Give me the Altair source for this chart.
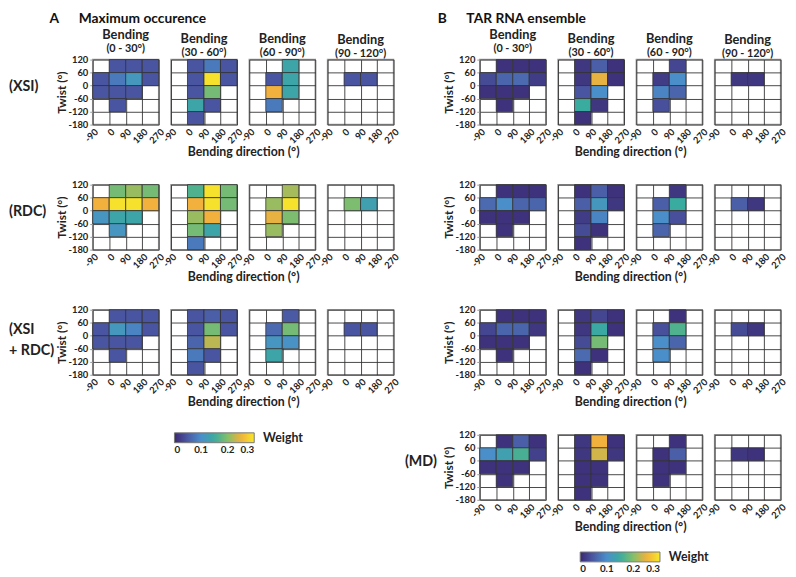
import altair as alt
import pandas as pd

N = None
FONT = "Lato"

# ---------------- data ----------------
x_edges = [-90, 0, 90, 180, 270]            # bending direction bin edges
y_edges = [120, 60, 0, -60, -120, -180]     # twist bin edges (top -> bottom)
bend_titles = ["(0 - 30°)", "(30 - 60°)", "(60 - 90°)", "(90 - 120°)"]

A_labels = ["(XSI)", "(RDC)", "(XSI\n+ RDC)"]
B_labels = [None, None, None, "(MD)"]

# each panel: 5 twist rows (top->bottom) x 4 direction columns, weight or None
A_XSI = [
    [[N, .045, .045, .045], [.045, .08, .115, .045], [.045, .045, .045, N], [N, .045, N, N], [N, N, N, N]],
    [[N, .045, .08, .045], [N, .045, .295, .045], [N, .045, .19, N], [N, .14, .045, N], [N, .045, N, N]],
    [[N, N, .14, N], [N, .045, .14, N], [N, .25, .14, N], [N, .08, N, N], [N, N, N, N]],
    [[N, N, N, N], [N, .045, .045, N], [N, N, N, N], [N, N, N, N], [N, N, N, N]],
]
A_RDC = [
    [[N, .19, .21, .19], [.25, .295, .295, .25], [.11, .14, .14, N], [N, .11, N, N], [N, N, N, N]],
    [[N, .165, .295, .19], [N, .25, .295, .19], [N, .21, .25, N], [N, .19, .14, N], [N, .08, N, N]],
    [[N, N, .215, N], [N, .21, .295, N], [N, .245, .195, N], [N, .21, N, N], [N, N, N, N]],
    [[N, N, N, N], [N, .195, .13, N], [N, N, N, N], [N, N, N, N], [N, N, N, N]],
]
A_BOTH = [
    [[N, .045, .045, .045], [.045, .115, .09, .045], [.045, .045, .045, N], [N, .045, N, N], [N, N, N, N]],
    [[N, .045, .055, .045], [N, .045, .19, .045], [N, .06, .225, N], [N, .08, .045, N], [N, .045, N, N]],
    [[N, N, .05, N], [N, .065, .19, N], [N, .11, .105, N], [N, .14, N, N], [N, N, N, N]],
    [[N, N, N, N], [N, .045, .045, N], [N, N, N, N], [N, N, N, N], [N, N, N, N]],
]
B_XSI = [
    [[N, .01, .01, .01], [.035, .06, .065, .02], [.01, .01, .01, N], [N, .01, N, N], [N, N, N, N]],
    [[N, .015, .055, .01], [N, .015, .245, .01], [N, .045, .1, N], [N, .15, .015, N], [N, .01, N, N]],
    [[N, N, .03, N], [N, .02, .1, N], [N, .09, .06, N], [N, .04, N, N], [N, N, N, N]],
    [[N, N, N, N], [N, .015, .015, N], [N, N, N, N], [N, N, N, N], [N, N, N, N]],
]
B_RDC = [
    [[N, .01, .01, .01], [.065, .1, .06, .06], [.01, .01, .01, N], [N, .01, N, N], [N, N, N, N]],
    [[N, .01, .055, .01], [N, .055, .115, .015], [N, .02, .09, N], [N, .035, .01, N], [N, .01, N, N]],
    [[N, N, .015, N], [N, .055, .15, N], [N, .1, .04, N], [N, .06, N, N], [N, N, N, N]],
    [[N, N, N, N], [N, .055, .015, N], [N, N, N, N], [N, N, N, N], [N, N, N, N]],
]
B_BOTH = [
    [[N, .01, .01, .01], [.03, .06, .06, .015], [.01, .01, .01, N], [N, .01, N, N], [N, N, N, N]],
    [[N, .015, .03, .01], [N, .015, .145, .01], [N, .035, .19, N], [N, .065, .01, N], [N, .01, N, N]],
    [[N, N, .01, N], [N, .04, .165, N], [N, .1, .06, N], [N, .1, N, N], [N, N, N, N]],
    [[N, N, N, N], [N, .035, .015, N], [N, N, N, N], [N, N, N, N], [N, N, N, N]],
]
B_MD = [
    [[N, .01, .055, .01], [.1, .13, .16, .025], [.01, .01, .01, N], [N, .01, N, N], [N, N, N, N]],
    [[N, .015, .25, .01], [N, .015, .235, .015], [N, .01, .01, N], [N, .01, .01, N], [N, .01, N, N]],
    [[N, N, .01, N], [N, .01, .055, N], [N, .01, .01, N], [N, .01, N, N], [N, N, N, N]],
    [[N, N, N, N], [N, .015, .01, N], [N, N, N, N], [N, N, N, N], [N, N, N, N]],
]

weight_stops = [0, .05, .1, .15, .2, .25, .3]
weight_colors = ["#3b2872", "#4b5aa5", "#4a8fca", "#3aab9f", "#84bf6a", "#f2b03c", "#f6e82a"]
legend_values = [0, 0.1, 0.2, 0.3]

# ---------------- layout ----------------
W, H = 67, 66
GAP = 12.5
cscale = alt.Scale(domain=weight_stops, range=weight_colors, interpolate="rgb")
LABEL_EXPR = "datum.value + ''"


def cells(grid):
    rows = []
    for r, line in enumerate(grid):
        for c, v in enumerate(line):
            if v is not None:
                rows.append(dict(x0=x_edges[c], x1=x_edges[c + 1],
                                 y0=y_edges[r + 1], y1=y_edges[r], w=v))
    return pd.DataFrame(rows)


def make_legend(lx, ly):
    return alt.Legend(title="Weight", orient="none", legendX=lx, legendY=ly,
                      direction="horizontal", gradientLength=81, gradientThickness=10,
                      titleOrient="right", values=legend_values, format="~g",
                      labelFont=FONT, labelFontSize=10, labelFontWeight="bold",
                      labelColor="#222", titleFont=FONT, titleFontSize=12.5,
                      titleFontWeight="bold", titleColor="#222",
                      gradientStrokeColor="#777", gradientStrokeWidth=1,
                      titlePadding=8, labelOffset=2)


def make_panel(grid, j, first_row, label, label_off, legend):
    df = cells(grid)
    xaxis_kw = dict(values=x_edges, labelAngle=-45, grid=True, domain=False, ticks=False,
                    labelPadding=2, labelFontSize=9.5, labelBound=False, labelOverlap=False,
                    labelExpr=LABEL_EXPR)
    if j == 1:
        xaxis = alt.Axis(title="Bending direction (°)", titleX=W + GAP / 2, titleY=27,
                         titleBaseline="middle", titleFontSize=12.5, **xaxis_kw)
    else:
        xaxis = alt.Axis(title=None, **xaxis_kw)
    if j == 0:
        yaxis = alt.Axis(values=y_edges, title="Twist (°)", grid=True, domain=False,
                         ticks=True, tickSize=3, tickColor="#999", labelPadding=2,
                         labelFontSize=9.5, titleFontSize=12, titlePadding=0,
                         labelExpr=LABEL_EXPR)
    else:
        yaxis = alt.Axis(values=y_edges, title=None, grid=True, domain=False,
                         ticks=False, labels=False)
    base = alt.Chart(df).mark_rect(stroke="#333", strokeWidth=0.8).encode(
        x=alt.X("x0:Q", scale=alt.Scale(domain=[-90, 270], nice=False, zero=False), axis=xaxis),
        x2="x1",
        y=alt.Y("y0:Q", scale=alt.Scale(domain=[-180, 120], nice=False, zero=False), axis=yaxis),
        y2="y1",
        color=alt.Color("w:Q", scale=cscale, legend=legend),
    )
    layers = [base]
    if j == 0:
        anchor = alt.Chart(pd.DataFrame({"a": [0]})).mark_rule(opacity=0).encode(
            x=alt.value(label_off), y=alt.value(30), y2=alt.value(31))
        layers.append(anchor)
        if label:
            ly = 21 if "\n" in label else H / 2 - 5
            txt = alt.Chart(pd.DataFrame({"t": [label]})).mark_text(
                align="left", baseline="middle", font=FONT, fontSize=14.5,
                fontWeight="bold", color="#222", lineBreak="\n", lineHeight=21).encode(
                text="t:N", x=alt.value(label_off), y=alt.value(ly))
            layers.append(txt)
    props = dict(width=W, height=H)
    if first_row:
        props["title"] = alt.TitleParams(
            text="Bending", subtitle=bend_titles[j], font=FONT, fontSize=13,
            fontWeight="bold", color="#222", subtitleFont=FONT, subtitleFontSize=11,
            subtitleFontWeight="bold", subtitleColor="#222", subtitlePadding=1,
            anchor="middle", offset=1)
    return alt.layer(*layers).properties(**props)


def make_block(groups, labels, label_off, legend, title):
    rows = []
    for i, (grp, lab) in enumerate(zip(groups, labels)):
        panels = [make_panel(grp[j], j, i == 0, lab, label_off, legend) for j in range(4)]
        rows.append(alt.hconcat(*panels, spacing=GAP, bounds="flush"))
    return alt.vconcat(*rows, spacing=20, title=title)


titleA = alt.TitleParams("A\u00a0\u00a0\u00a0\u00a0\u00a0\u00a0Maximum occurence", anchor="start",
                         font=FONT, fontSize=14, fontWeight="bold", color="#111",
                         dx=42, offset=2)
titleB = alt.TitleParams("B\u00a0\u00a0\u00a0\u00a0\u00a0\u00a0TAR RNA ensemble", anchor="start",
                         font=FONT, fontSize=14, fontWeight="bold", color="#111",
                         dx=34, offset=2)

blockA = make_block([A_XSI, A_RDC, A_BOTH], A_labels, -85, make_legend(83, 379), titleA)
blockB = make_block([B_XSI, B_RDC, B_BOTH, B_MD], B_labels, -76, make_legend(102, 500), titleB)

chart = alt.hconcat(blockA, blockB, spacing=3).resolve_scale(color="independent").properties(
    padding=0
).configure_view(stroke="#9a9a9a", strokeWidth=1.5).configure_axis(
    labelFont=FONT, labelFontWeight="bold", labelColor="#222",
    titleFont=FONT, titleFontWeight="bold", titleColor="#222",
    gridColor="#333", gridWidth=0.9, gridOpacity=1,
)

chart.save("out.html", embed_options={"renderer": "svg", "actions": False})
